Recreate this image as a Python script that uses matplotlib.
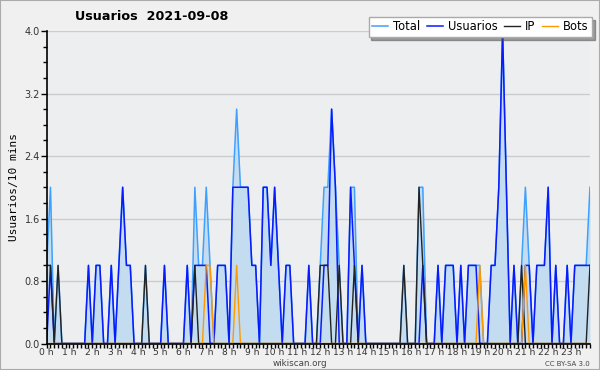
import matplotlib
matplotlib.use('Agg')
import matplotlib.pyplot as plt
from matplotlib.ticker import MultipleLocator, FixedLocator

hours = [f"{h} h" for h in range(24)]

usuarios = [0,1,0,0,0,0, 0,0,0,0,0,1, 0,1,1,0,0,1, 0,1,2,1,1,0,
            0,0,0,0,0,0, 0,1,0,0,0,0, 0,1,0,1,1,1, 1,0,0,1,1,1,
            0,2,2,2,2,2, 1,1,0,2,2,1, 2,1,0,1,1,0, 0,0,0,1,0,0,
            0,1,1,3,2,0, 0,0,2,1,0,1, 0,0,0,0,0,0, 0,0,0,0,0,0,
            0,0,0,1,0,0, 0,1,0,1,1,1, 0,1,0,1,1,1, 0,0,0,1,1,2,
            4,2,0,1,0,0, 1,1,0,1,1,1, 2,0,1,0,0,1, 0,1,1,1,1,1]
ip =       [1,1,0,1,0,0, 0,0,0,0,0,0, 0,0,0,0,0,0, 0,0,0,0,0,0,
            0,0,1,0,0,0, 0,0,0,0,0,0, 0,0,0,1,0,0, 0,0,0,0,0,0,
            0,0,0,0,0,0, 0,0,0,0,0,0, 0,0,0,0,0,0, 0,0,0,0,0,0,
            1,1,1,0,0,1, 0,0,0,1,0,0, 0,0,0,0,0,0, 0,0,0,0,1,0,
            0,0,2,1,0,0, 0,0,0,0,0,0, 0,0,0,0,0,0, 0,0,0,0,0,0,
            0,0,0,0,0,1, 0,0,0,0,0,0, 0,0,0,0,0,0, 0,0,0,0,0,1]
bots =     [0,0,0,0,0,0, 0,0,0,0,0,0, 0,0,0,0,0,0, 0,0,0,0,0,0,
            0,0,0,0,0,0, 0,0,0,0,0,0, 0,0,0,0,0,0, 1,1,0,0,0,0,
            0,0,1,0,0,0, 0,0,0,0,0,0, 0,0,0,0,0,0, 0,0,0,0,0,0,
            0,0,0,0,0,0, 0,0,0,0,0,0, 0,0,0,0,0,0, 0,0,0,0,0,0,
            0,0,0,0,0,0, 0,0,0,0,0,0, 0,0,0,0,0,0, 1,0,0,0,0,0,
            0,0,0,0,0,0, 1,0,0,0,0,0, 0,0,0,0,0,0, 0,0,0,0,0,0]
total =    [1,2,0,1,0,0, 0,0,0,0,0,1, 0,1,1,0,0,1, 0,1,2,1,1,0,
            0,0,1,0,0,0, 0,1,0,0,0,0, 0,1,0,2,1,1, 2,1,0,1,1,1,
            0,2,3,2,2,2, 1,1,0,2,2,1, 2,1,0,1,1,0, 0,0,0,1,0,0,
            1,2,2,3,2,1, 0,0,2,2,0,1, 0,0,0,0,0,0, 0,0,0,0,1,0,
            0,0,2,2,0,0, 0,1,0,1,1,1, 0,1,0,1,1,1, 1,0,0,1,1,2,
            4,2,0,1,0,1, 2,1,0,1,1,1, 2,0,1,0,0,1, 0,1,1,1,1,2]

x = list(range(len(total)))

fig = plt.figure(figsize=(6, 3.7), dpi=100, facecolor='#f0f0f0')
ax = fig.add_axes([0.0778, 0.0716, 0.9055, 0.8446])
ax.set_facecolor('#edeef0')

ax.fill_between(x, total, 0, color='#c4dcf0', linewidth=0, zorder=2)
ax.plot(x, total, color='#3ea0ff', lw=1.1, zorder=3, label='Total')
ax.plot(x, usuarios, color='#0a1aff', lw=1.1, zorder=4, label='Usuarios')
ax.plot(x, ip, color='#222222', lw=1.0, zorder=5, label='IP')
ax.plot(x, bots, color='#ff9900', lw=1.0, zorder=6, label='Bots')

ax.set_xlim(0, len(total) - 1)
ax.set_ylim(0, 4.0)
ax.yaxis.set_major_locator(MultipleLocator(0.8))
ax.yaxis.set_minor_locator(MultipleLocator(0.2))
ax.set_yticklabels([f"{v:.1f}" for v in ax.get_yticks()])
ax.xaxis.set_major_locator(FixedLocator([h * 6 for h in range(24)]))
ax.set_xticklabels(hours)
ax.xaxis.set_minor_locator(MultipleLocator(1))
ax.grid(axis='y', color='#cccccc', lw=1.0, zorder=1)
ax.set_axisbelow(True)

for s in ['top', 'right']:
    ax.spines[s].set_visible(False)
for s in ['left', 'bottom']:
    ax.spines[s].set_color('black')
    ax.spines[s].set_linewidth(1.2)
    ax.spines[s].set_zorder(10)
ax.tick_params(axis='y', which='major', labelsize=7, length=4, width=1, pad=1, colors='black', labelcolor='#333333')
ax.tick_params(axis='x', which='major', labelsize=6.6, length=3, width=1, pad=0.5, colors='black', labelcolor='#333333')
ax.tick_params(axis='both', which='minor', length=3, width=1)

ax.set_ylabel('Usuarios/10 mins', fontsize=8, family='DejaVu Sans Mono', labelpad=4)

fig.text(0.125, 0.955, 'Usuarios  2021-09-08', fontsize=9.2, fontweight='bold', ha='left', va='center')

leg = ax.legend(loc='upper right', bbox_to_anchor=(1.004, 1.045), ncol=4, fontsize=8.3,
                frameon=True, fancybox=False, shadow=True, handlelength=1.4,
                handletextpad=0.4, columnspacing=0.6, borderpad=0.3,
                borderaxespad=0.0)
leg.get_frame().set_edgecolor('#aaaaaa')
leg.get_frame().set_facecolor('white')
leg.get_frame().set_linewidth(1)
leg.set_zorder(20)

fig.text(0.5, 0.017, 'wikiscan.org', fontsize=6.3, ha='center', va='center', color='#444444')
fig.text(0.983, 0.017, 'CC BY-SA 3.0', fontsize=5, ha='right', va='center', color='#444444')

border = plt.Rectangle((0, 0), 1, 1, transform=fig.transFigure, fill=False, edgecolor='#aaaaaa', lw=1.5)
fig.patches.append(border)

fig.savefig('out.png', dpi=100, facecolor=fig.get_facecolor())
